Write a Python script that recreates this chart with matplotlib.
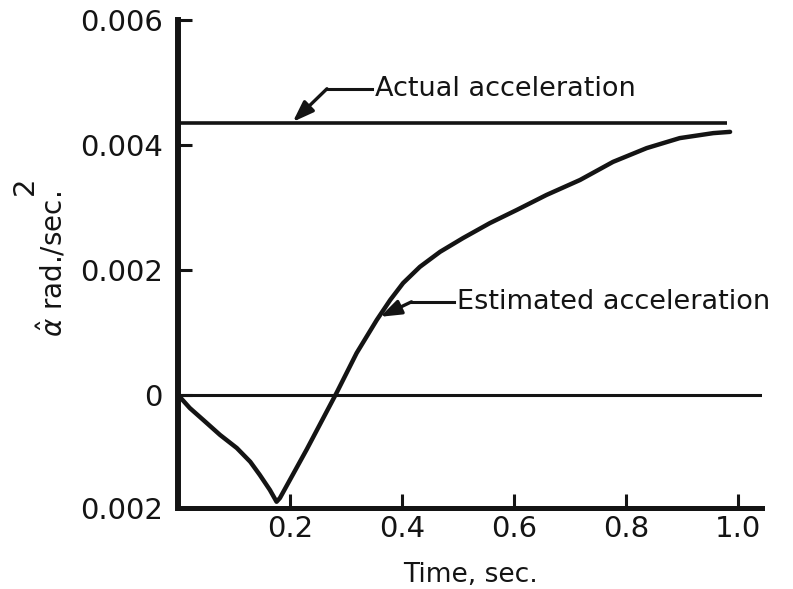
import matplotlib
matplotlib.use("Agg")
import matplotlib.pyplot as plt

# values
time_est = [0.0, 0.021, 0.045, 0.075, 0.105, 0.129, 0.146, 0.164, 0.176,
            0.182, 0.230, 0.283, 0.319, 0.355, 0.379, 0.402, 0.432, 0.468,
            0.509, 0.557, 0.605, 0.658, 0.718, 0.777, 0.837, 0.896, 0.956, 0.986]
accel_est = [0.0, -0.00021, -0.00040, -0.00064, -0.00085, -0.00107, -0.00128, -0.00152, -0.00171,
             -0.00165, -0.00087, 0.00003, 0.00067, 0.00120, 0.00152, 0.00179, 0.00205, 0.00229,
             0.00251, 0.00275, 0.00296, 0.00320, 0.00344, 0.00373, 0.00395, 0.00411, 0.00419, 0.00421]
time_act = [0.0, 0.98]
accel_act = [0.00435, 0.00435]

x_ticks = [0.2, 0.4, 0.6, 0.8, 1.0]
x_labels = ["0.2", "0.4", "0.6", "0.8", "1.0"]
y_bottom = -0.00181
y_ticks = [y_bottom, 0.0, 0.002, 0.004, 0.006]
y_labels = ["0.002", "0", "0.002", "0.004", "0.006"]

ink = "#141414"
plt.rcParams["font.family"] = ["DejaVu Sans"]

fig = plt.figure(figsize=(7.93, 5.89), dpi=100)
ax = fig.add_axes([0.2245, 0.1375, 0.7364, 0.8285])

ax.plot(time_est, accel_est, color=ink, lw=3.2, solid_joinstyle="round", solid_capstyle="round")
ax.plot(time_act, accel_act, color=ink, lw=2.6, solid_capstyle="butt")
ax.axhline(0, color=ink, lw=2.2)

ax.set_xlim(0, 1.043)
ax.set_ylim(y_bottom, 0.006)

for s in ["top", "right"]:
    ax.spines[s].set_visible(False)
ax.spines["left"].set_linewidth(4.3)
ax.spines["bottom"].set_linewidth(3.6)
ax.spines["left"].set_color(ink)
ax.spines["bottom"].set_color(ink)

ax.set_xticks(x_ticks)
ax.set_xticklabels(x_labels, fontsize=21)
ax.set_yticks(y_ticks)
ax.set_yticklabels(y_labels, fontsize=21)
ax.tick_params(axis="both", direction="in", length=10, width=2.2, color=ink, labelcolor=ink)
ax.tick_params(axis="y", pad=11)
ax.tick_params(axis="x", pad=5)

ax.set_xlabel("Time, sec.", fontsize=19, color=ink, labelpad=14)
ax.set_ylabel(r"$\hat{\alpha}$ rad./sec.", fontsize=20, color=ink, labelpad=8)
fig.text(25 / 793, 1 - 186 / 589, "2", rotation=90, fontsize=21, color=ink,
         ha="center", va="center")

# callouts
def callout(label, tip, kink, text_x):
    ax.plot([kink[0], text_x - 0.005], [kink[1], kink[1]], color=ink, lw=2.2)
    ax.annotate("", xy=tip, xytext=kink,
                arrowprops=dict(arrowstyle="-|>,head_length=0.7,head_width=0.25",
                                color=ink, lw=2.4, shrinkA=0, shrinkB=0,
                                mutation_scale=18))
    ax.text(text_x, kink[1], label, fontsize=19.5, color=ink, va="center", ha="left")

callout("Actual acceleration", (0.205, 0.00437), (0.266, 0.00490), 0.352)
callout("Estimated acceleration", (0.361, 0.00125), (0.417, 0.00149), 0.498)

fig.savefig("out.png", dpi=100)
